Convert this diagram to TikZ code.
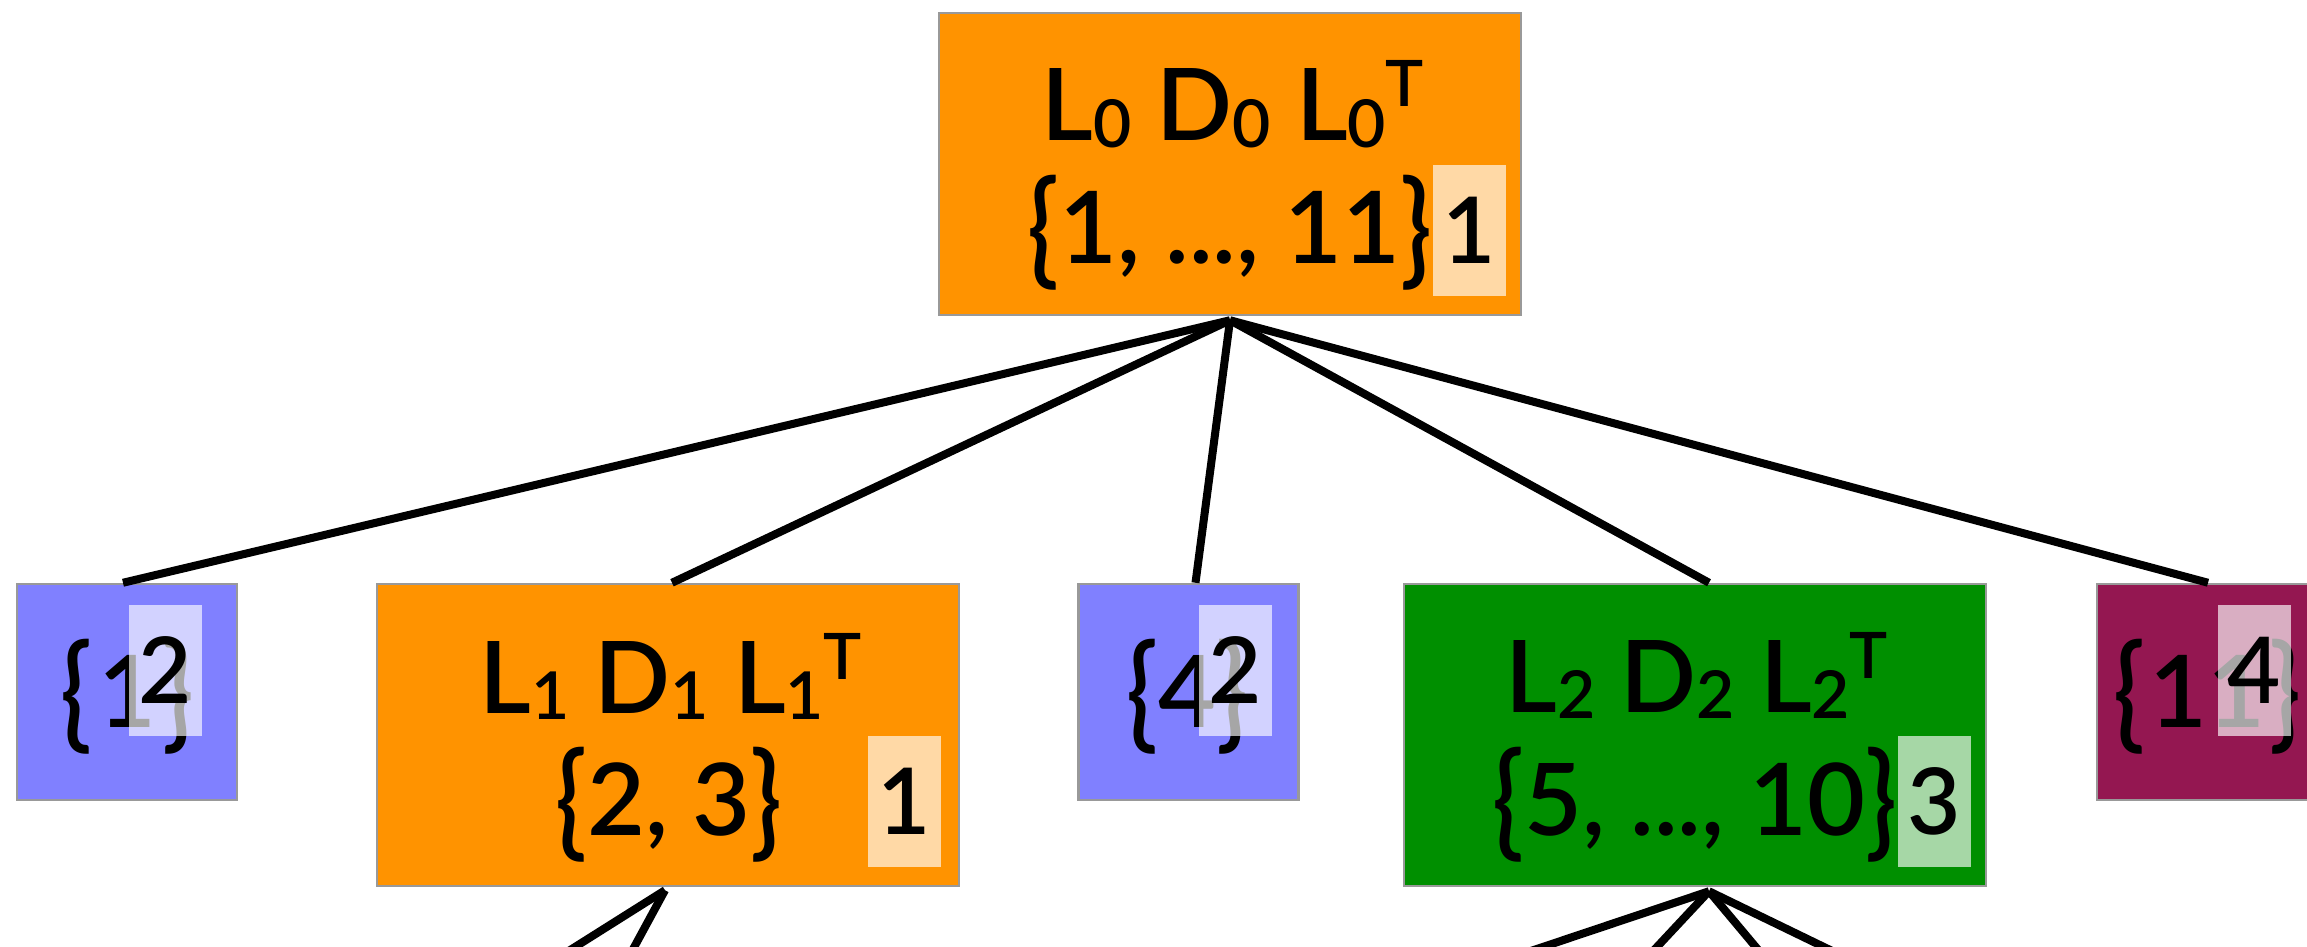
\documentclass[tikz,border=0pt]{standalone}
\usepackage{graphicx}
\usepackage{fontspec}
\setmainfont{Lato}[BoldFont={Lato Semibold}]
\usetikzlibrary{calc}
\definecolor{korange}{RGB}{255,147,0}
\definecolor{kblue}{RGB}{128,128,255}
\definecolor{kgreen}{RGB}{0,143,0}
\definecolor{kpurple}{RGB}{148,23,81}
\definecolor{kborder}{RGB}{153,153,153}
\newcommand\lsb[1]{\raisebox{-6pt}{\fontsize{66}{66}\selectfont #1}}
\newcommand\lsp[1]{\raisebox{34pt}{\fontsize{64}{64}\selectfont #1}}
\newcommand\lbr{\raisebox{-8pt}{\scalebox{1.05}[1.25]{\{}}}
\newcommand\rbr{\raisebox{-8pt}{\scalebox{1.05}[1.25]{\}}}}
\begin{document}
\begin{tikzpicture}[x=1pt,y=-1pt,
  box/.style={draw=kborder, line width=2.5pt, inner sep=0pt, rectangle},
  bigbox/.style={box, minimum width=582pt, minimum height=302pt},
  smallbox/.style={box, minimum width=220pt, minimum height=216pt},
  txt/.style={inner sep=0pt, anchor=base, font=\fontsize{100}{100}\selectfont\bfseries},
  badge/.style={fill=white, fill opacity=0.65, draw=none, inner sep=0pt, minimum width=73pt, minimum height=131pt},
  btxt/.style={inner sep=0pt, font=\fontsize{92}{92}\selectfont\bfseries},
  edge/.style={line width=8pt, draw=black}]
\useasboundingbox (0,0) rectangle (2307,947);
\clip (0,0) rectangle (2307,947);

% boxes
\node[bigbox, fill=korange] (root) at (1230,164) {};
\node[smallbox, fill=kblue] (n1) at (127,692) {};
\node[bigbox, fill=korange] (n2) at (668,735) {};
\node[smallbox, fill=kblue] (n3) at (1188.5,692) {};
\node[bigbox, fill=kgreen] (n4) at (1695,735) {};
\node[smallbox, fill=kpurple] (n5) at (2207,692) {};

% texts
\node[txt] (root-a) at (1233,141) {L\lsb{0} D\lsb{0} L\lsb{0}\lsp{T}};
\node[txt] (root-b) at (1230,263) {\lbr 1, ..., 11\rbr};
\node[txt] (n2-a) at (671,713) {L\lsb{1} D\lsb{1} L\lsb{1}\lsp{T}};
\node[txt] (n2-b) at (669,835) {\lbr 2, 3\rbr};
\node[txt] (n4-a) at (1697,712) {L\lsb{2} D\lsb{2} L\lsb{2}\lsp{T}};
\node[txt] (n4-b) at (1695,835) {\lbr 5, ..., 10\rbr};
\node[txt] (n1-a) at (127,727) {\lbr\hspace{6pt}1\hspace{6pt}\rbr};
\node[txt] (n3-a) at (1187.5,727) {\lbr 4\rbr};
\node[txt] (n5-a) at (2207.5,727) {\lbr\hspace{4pt}11\hspace{4pt}\rbr};

% badges
\node[badge] (root-k) at (1469,230.5) {};
\node[badge] (n2-k) at (904.5,801) {};
\node[badge] (n4-k) at (1934.5,801) {};
\node[badge] (n1-k) at (165.5,670.5) {};
\node[badge] (n3-k) at (1235.5,670.5) {};
\node[badge] (n5-k) at (2254.5,670.5) {};
\node[btxt] (root-kt) at (root-k) {1};
\node[btxt] (n2-kt) at (n2-k) {1};
\node[btxt] (n4-kt) at (n4-k) {3};
\node[btxt] (n1-kt) at (n1-k) {2};
\node[btxt] (n3-kt) at (n3-k) {2};
\node[btxt] (n5-kt) at (n5-k) {4};

% free ends of the lower connectors
\coordinate (e1) at (548,964);
\coordinate (e2) at (625,964);
\coordinate (e3) at (1492,964);
\coordinate (e4) at (1641,964);
\coordinate (e5) at (1770,964);
\coordinate (e6) at (1859,964);

% connectors
\draw[edge] ([yshift=-4pt]root.south) -- ([xshift=-4pt]n1.north);
\draw[edge] ([yshift=-4pt]root.south) -- ([xshift=4pt]n2.north);
\draw[edge] ([yshift=-4pt]root.south) -- ([xshift=7pt]n3.north);
\draw[edge] ([yshift=-4pt]root.south) -- ([xshift=14pt]n4.north);
\draw[edge] ([yshift=-4pt]root.south) -- ([xshift=1pt]n5.north);
\draw[edge] ([xshift=-3pt,yshift=-3pt]n2.south) -- (e1);
\draw[edge] ([xshift=-3pt,yshift=-3pt]n2.south) -- (e2);
\draw[edge] ([xshift=14pt,yshift=-4pt]n4.south) -- (e3);
\draw[edge] ([xshift=14pt,yshift=-4pt]n4.south) -- (e4);
\draw[edge] ([xshift=14pt,yshift=-4pt]n4.south) -- (e5);
\draw[edge] ([xshift=14pt,yshift=-4pt]n4.south) -- (e6);
\end{tikzpicture}
\end{document}
